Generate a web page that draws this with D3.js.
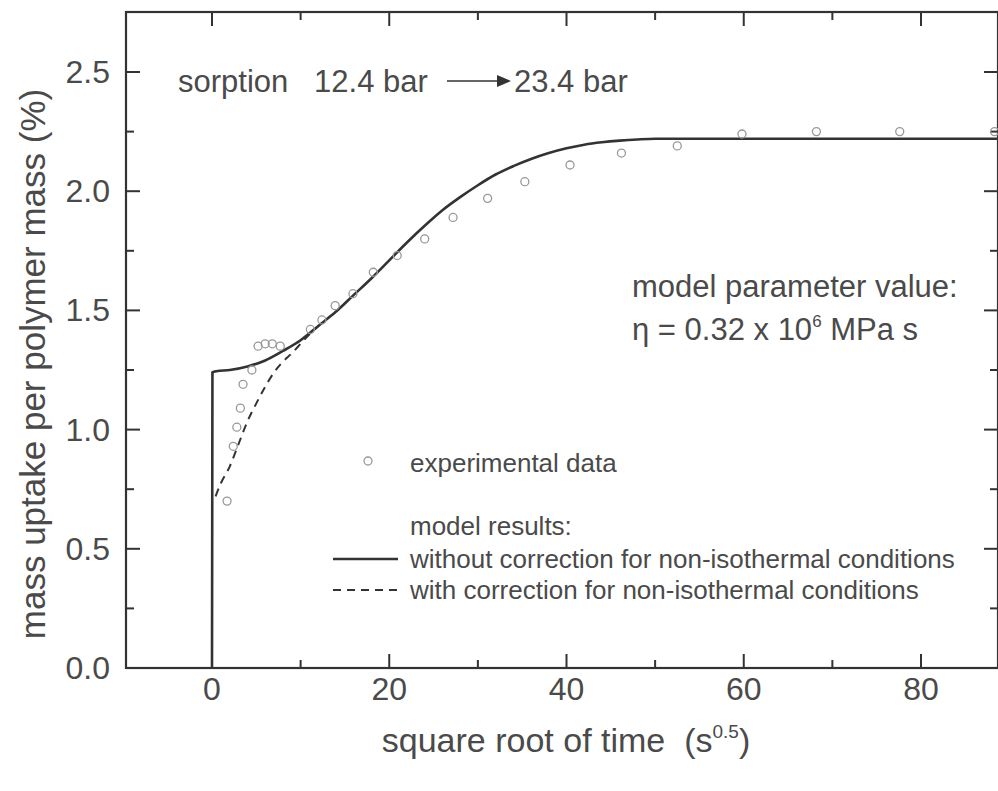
<!DOCTYPE html>
<html>
<head>
<meta charset="utf-8">
<script src="https://cdn.jsdelivr.net/npm/d3@7"></script>
<style>
  body { margin: 0; background: #fff; }
  text { font-family: "Liberation Sans", Arial, sans-serif; fill: #4a4a4a; white-space: pre; }
</style>
</head>
<body>
<div id="chart"></div>
<script>
// experimental data (circles)
const expX = [1.7, 2.4, 2.8, 3.2, 3.5, 4.5, 5.2, 6.0, 6.8, 7.7, 11.1, 12.4, 13.9, 15.9, 18.2, 20.9, 24.0, 27.2, 31.1, 35.3, 40.4, 46.2, 52.5, 59.8, 68.2, 77.6, 88.3];
const expY = [0.70, 0.93, 1.01, 1.09, 1.19, 1.25, 1.35, 1.36, 1.36, 1.35, 1.42, 1.46, 1.52, 1.57, 1.66, 1.73, 1.80, 1.89, 1.97, 2.04, 2.11, 2.16, 2.19, 2.24, 2.25, 2.25, 2.25];

// model without correction (solid)
const solidX = [0, 0.05, 0.5, 2, 4, 6, 8, 10, 12, 14, 16, 18, 20, 22, 24, 26, 28, 30, 32, 34, 36, 38, 40, 42, 44, 46, 48, 50, 55, 90];
const solidY = [0, 1.24, 1.245, 1.25, 1.265, 1.29, 1.33, 1.375, 1.435, 1.495, 1.565, 1.635, 1.71, 1.785, 1.855, 1.92, 1.975, 2.025, 2.07, 2.105, 2.135, 2.16, 2.18, 2.195, 2.205, 2.212, 2.217, 2.22, 2.22, 2.22];

// model with correction (dashed)
const dashX = [0.4, 1, 2, 3, 4, 5, 6, 7, 8, 9, 10, 11, 12];
const dashY = [0.72, 0.775, 0.845, 0.94, 1.035, 1.11, 1.18, 1.24, 1.285, 1.32, 1.36, 1.40, 1.435];

const xMajor = [0, 20, 40, 60, 80];
const xMinor = [10, 30, 50, 70];
const yMajor = [0.0, 0.5, 1.0, 1.5, 2.0, 2.5];
const yMinor = [0.25, 0.75, 1.25, 1.75, 2.25];

const width = 998, height = 791;
const frame = {left: 126, right: 998, top: 12, bottom: 668};

const svg = d3.select("#chart")
    .append("svg")
    .attr("width", width)
    .attr("height", height);

let x = d3.scaleLinear().domain([0, 80]).range([212, 921]);
let y = d3.scaleLinear().domain([0, 2.5]).range([frame.bottom, 72]);

const ink = "#333";

// frame
svg.append("rect")
    .attr("x", frame.left).attr("y", frame.top)
    .attr("width", frame.right - frame.left)
    .attr("height", frame.bottom - frame.top)
    .attr("fill", "none").attr("stroke", ink).attr("stroke-width", 2.2);

// ticks, all pointing inward
let tickG = svg.append("g")
    .attr("stroke", ink)
    .attr("stroke-width", 2);

function xTicks(vals, len) {
    vals.forEach(function(v) {
        tickG.append("line").attr("x1", x(v)).attr("x2", x(v))
            .attr("y1", frame.bottom).attr("y2", frame.bottom - len);
        tickG.append("line").attr("x1", x(v)).attr("x2", x(v))
            .attr("y1", frame.top).attr("y2", frame.top + len);
    });
}
function yTicks(vals, len) {
    vals.forEach(function(v) {
        tickG.append("line").attr("x1", frame.left).attr("x2", frame.left + len)
            .attr("y1", y(v)).attr("y2", y(v));
        tickG.append("line").attr("x1", frame.right).attr("x2", frame.right - len)
            .attr("y1", y(v)).attr("y2", y(v));
    });
}
xTicks(xMajor, 14);
xTicks(xMinor, 8);
yTicks(yMajor, 14);
yTicks(yMinor, 8);

// tick labels
svg.append("g").selectAll("text").data(xMajor).enter()
    .append("text")
    .attr("x", d => x(d)).attr("y", 700)
    .attr("text-anchor", "middle")
    .style("font-size", "32px")
    .text(d => d);

svg.append("g").selectAll("text").data(yMajor).enter()
    .append("text")
    .attr("x", 110).attr("y", d => y(d) + 11)
    .attr("text-anchor", "end")
    .style("font-size", "32px")
    .text(d => d3.format(".1f")(d));

// axis titles
let xTitle = svg.append("text")
    .attr("x", 566).attr("y", 752)
    .attr("text-anchor", "middle")
    .style("font-size", "34px");
xTitle.append("tspan").text("square root of time  (s");
xTitle.append("tspan").attr("dy", -14).style("font-size", "19px").text("0.5");
xTitle.append("tspan").attr("dy", 14).text(")");

svg.append("text")
    .attr("transform", "translate(45, 364) rotate(-90)")
    .attr("text-anchor", "middle")
    .style("font-size", "35px")
    .text("mass uptake per polymer mass (%)");

// model curves
const line = d3.line()
    .x(d => x(d[0]))
    .y(d => y(d[1]))
    .curve(d3.curveMonotoneX);

svg.append("path")
    .datum(solidX.map((v, i) => [v, solidY[i]]))
    .attr("d", line)
    .attr("fill", "none").attr("stroke", ink).attr("stroke-width", 2.6);

svg.append("path")
    .datum(dashX.map((v, i) => [v, dashY[i]]))
    .attr("d", line)
    .attr("fill", "none").attr("stroke", ink).attr("stroke-width", 2)
    .attr("stroke-dasharray", "8,6");

// experimental points
svg.append("g").selectAll("circle").data(expX).enter()
    .append("circle")
    .attr("cx", d => x(d))
    .attr("cy", (d, i) => y(expY[i]))
    .attr("r", 4)
    .attr("fill", "none").attr("stroke", "#999").attr("stroke-width", 1.3);

// sorption annotation with arrow
svg.append("text")
    .attr("x", 178).attr("y", 92)
    .style("font-size", "31px")
    .text("sorption   12.4 bar");
svg.append("line")
    .attr("x1", 447).attr("x2", 500).attr("y1", 81).attr("y2", 81)
    .attr("stroke", ink).attr("stroke-width", 1.5);
svg.append("path")
    .attr("d", "M497,75 L511,81 L497,87 Z")
    .attr("fill", ink);
svg.append("text")
    .attr("x", 514).attr("y", 92)
    .style("font-size", "31px")
    .text("23.4 bar");

// parameter annotation
svg.append("text")
    .attr("x", 632).attr("y", 297)
    .style("font-size", "31px")
    .text("model parameter value:");
let eta = svg.append("text")
    .attr("x", 632).attr("y", 340)
    .style("font-size", "31px");
eta.append("tspan").text("\u03b7 = 0.32 x 10");
eta.append("tspan").attr("dy", -13).style("font-size", "17px").text("6");
eta.append("tspan").attr("dy", 13).text(" MPa s");

// legend
svg.append("circle")
    .attr("cx", 368).attr("cy", 461).attr("r", 4)
    .attr("fill", "none").attr("stroke", "#999").attr("stroke-width", 1.3);
svg.append("text").attr("x", 410).attr("y", 472)
    .style("font-size", "26px").text("experimental data");
svg.append("text").attr("x", 410).attr("y", 535)
    .style("font-size", "26px").text("model results:");
svg.append("line")
    .attr("x1", 333).attr("x2", 398).attr("y1", 559).attr("y2", 559)
    .attr("stroke", ink).attr("stroke-width", 2.6);
svg.append("text").attr("x", 410).attr("y", 568)
    .style("font-size", "26px").text("without correction for non-isothermal conditions");
svg.append("line")
    .attr("x1", 333).attr("x2", 398).attr("y1", 590).attr("y2", 590)
    .attr("stroke", ink).attr("stroke-width", 2)
    .attr("stroke-dasharray", "8,6");
svg.append("text").attr("x", 410).attr("y", 599)
    .style("font-size", "26px").text("with correction for non-isothermal conditions");
</script>
</body>
</html>
